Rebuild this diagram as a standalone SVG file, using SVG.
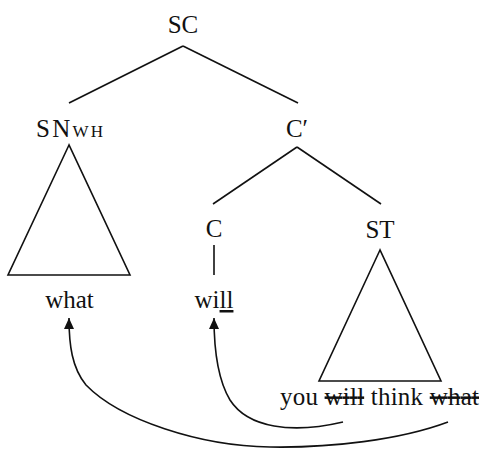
<svg xmlns="http://www.w3.org/2000/svg" width="481" height="449" viewBox="0 0 481 449">
<defs>
<style>
text{font-family:"Liberation Serif","Times New Roman",serif;font-size:25px;fill:#111}
.small{font-size:17px}
.edge{stroke:#111;stroke-width:1.6;fill:none}
.tri{stroke:#111;stroke-width:1.6;fill:none;stroke-linejoin:miter}
</style>
<marker id="ah" markerUnits="userSpaceOnUse" markerWidth="12" markerHeight="12" viewBox="0 0 12 12" refX="11" refY="6" orient="auto">
<path d="M0,1 L11,6 L0,11 Z" fill="#111"/>
</marker>
</defs>
<rect width="481" height="449" fill="#fff"/>
<g id="edges">
<line class="edge" x1="183" y1="46" x2="69" y2="103"/>
<line class="edge" x1="183" y1="46" x2="298" y2="103"/>
<line class="edge" x1="297" y1="147" x2="213" y2="204"/>
<line class="edge" x1="297" y1="147" x2="381" y2="204"/>
<line class="edge" x1="214" y1="245" x2="214" y2="275"/>
</g>
<g id="node-SC"><text x="183" y="33" text-anchor="middle">SC</text></g>
<g id="node-SNWH"><text x="36" y="137" textLength="67" lengthAdjust="spacing">SN<tspan class="small">WH</tspan></text>
<polygon class="tri" points="69,145 8,275 130,275"/>
<text x="69.5" y="308" text-anchor="middle">what</text></g>
<g id="node-Cbar"><text x="297" y="137" text-anchor="middle">C′</text></g>
<g id="node-C"><text x="214" y="237" text-anchor="middle">C</text>
<text x="214" y="308" text-anchor="middle">wi<tspan text-decoration="underline">ll</tspan></text></g>
<g id="node-ST"><text x="380" y="238" text-anchor="middle">ST</text>
<polygon class="tri" points="380,250 319,381 441,381"/>
<text x="280" y="405" textLength="199" lengthAdjust="spacing">you <tspan text-decoration="line-through">will</tspan> think <tspan text-decoration="line-through">what</tspan></text></g>
<g id="connectors">
<path class="edge" marker-end="url(#ah)" d="M343,422 C292,434 248,428 230,400 C218,380 214,352 214,318"/>
<path class="edge" marker-end="url(#ah)" d="M448,422 C400,440 330,448 270,447 C200,446 120,420 86,385 C72,368 69,345 69,318"/>
</g>
</svg>
